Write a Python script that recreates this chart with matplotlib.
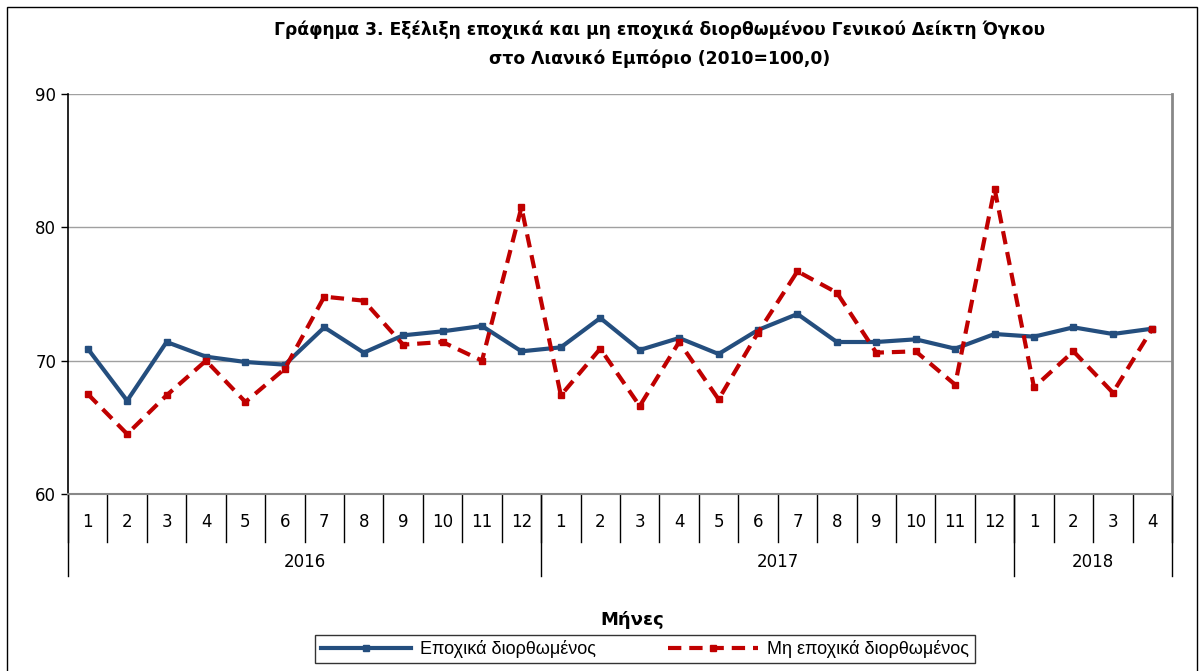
import numpy as np
import matplotlib.pyplot as plt
from matplotlib.patches import Rectangle
import matplotlib.transforms as mtransforms

months = [str(m) for m in range(1, 13)] + [str(m) for m in range(1, 13)] + ['1', '2', '3', '4']
years = ['2016', '2017', '2018']
year_len = [12, 12, 4]

sa = [70.9, 67.0, 71.4, 70.3, 69.9, 69.7, 72.5, 70.6, 71.9, 72.2, 72.6, 70.7,
      71.0, 73.2, 70.8, 71.7, 70.5, 72.3, 73.5, 71.4, 71.4, 71.6, 70.9, 72.0,
      71.8, 72.5, 72.0, 72.4]
nsa = [67.5, 64.5, 67.4, 70.0, 66.9, 69.4, 74.8, 74.5, 71.2, 71.4, 70.0, 81.5,
       67.4, 70.9, 66.6, 71.4, 67.1, 72.1, 76.7, 75.1, 70.6, 70.7, 68.2, 82.9,
       68.0, 70.7, 67.6, 72.4]

blue = '#244E7E'
red = '#C00000'

fig = plt.figure(figsize=(12.04, 6.71), dpi=100)
ax = fig.add_axes([68/1204, 1-494/671, (1172-68)/1204, 400/671])

x = np.arange(len(months))
ax.plot(x, sa, color=blue, lw=3, marker='s', ms=5, label='Εποχικά διορθωμένος')
ax.plot(x, nsa, color=red, lw=3, ls=(0, (3.2, 1.9)), marker='s', ms=5,
        label='Μη εποχικά διορθωμένος')

ax.set_xlim(-0.5, len(months) - 0.5)
ax.set_ylim(60, 90)
ax.set_yticks([60, 70, 80, 90])
ax.tick_params(axis='y', labelsize=12, length=5, direction='out', width=1)
ax.set_xticks([])
for v in [70, 80, 90]:
    ax.axhline(v, color='#A0A0A0', lw=1, zorder=0)
ax.spines['top'].set_visible(False)
ax.spines['right'].set_color('#888888')
ax.spines['right'].set_linewidth(2)
ax.spines['bottom'].set_color('#888888')
ax.spines['bottom'].set_linewidth(1.5)
ax.spines['left'].set_linewidth(1.2)

# two-level category axis
trans = mtransforms.blended_transform_factory(ax.transData, ax.transAxes)
for i, m in enumerate(months):
    ax.text(i, -0.07, m, transform=trans, ha='center', va='center', fontsize=12)
for i in range(len(months) + 1):
    ax.plot([i - 0.5, i - 0.5], [0, -0.12], transform=trans, color='black',
            lw=1, clip_on=False)
start = 0
bounds = [0]
for y, n in zip(years, year_len):
    ax.text(start + n / 2 - 0.5, -0.17, y, transform=trans, ha='center',
            va='center', fontsize=12)
    start += n
    bounds.append(start)
for b in bounds:
    ax.plot([b - 0.5, b - 0.5], [0, -0.205], transform=trans, color='black',
            lw=1, clip_on=False)

fig.text(660/1204, 1-30/671, 'Γράφημα 3. Εξέλιξη εποχικά και μη εποχικά διορθωμένου Γενικού Δείκτη Όγκου',
         ha='center', va='center', fontsize=12.3, fontweight='bold')
fig.text(660/1204, 1-59/671, 'στο Λιανικό Εμπόριο (2010=100,0)',
         ha='center', va='center', fontsize=12.3, fontweight='bold')
fig.text(632/1204, 1-620/671, 'Μήνες', ha='center', va='center',
         fontsize=13, fontweight='bold')

leg = fig.legend(loc='center', bbox_to_anchor=(645/1204, 1-649/671), ncol=2,
                 frameon=True, fancybox=False, edgecolor='black',
                 prop={'family': 'Liberation Sans', 'size': 13},
                 handlelength=5, columnspacing=4, borderpad=0.3,
                 borderaxespad=0, handletextpad=0.5)
leg.get_frame().set_linewidth(1)

fig.patches.append(Rectangle((7/1204, -0.05), 1190/1204, 1.05 - 7/671,
                             transform=fig.transFigure, fill=False,
                             edgecolor='black', lw=1))

plt.savefig('out.png', dpi=100)
